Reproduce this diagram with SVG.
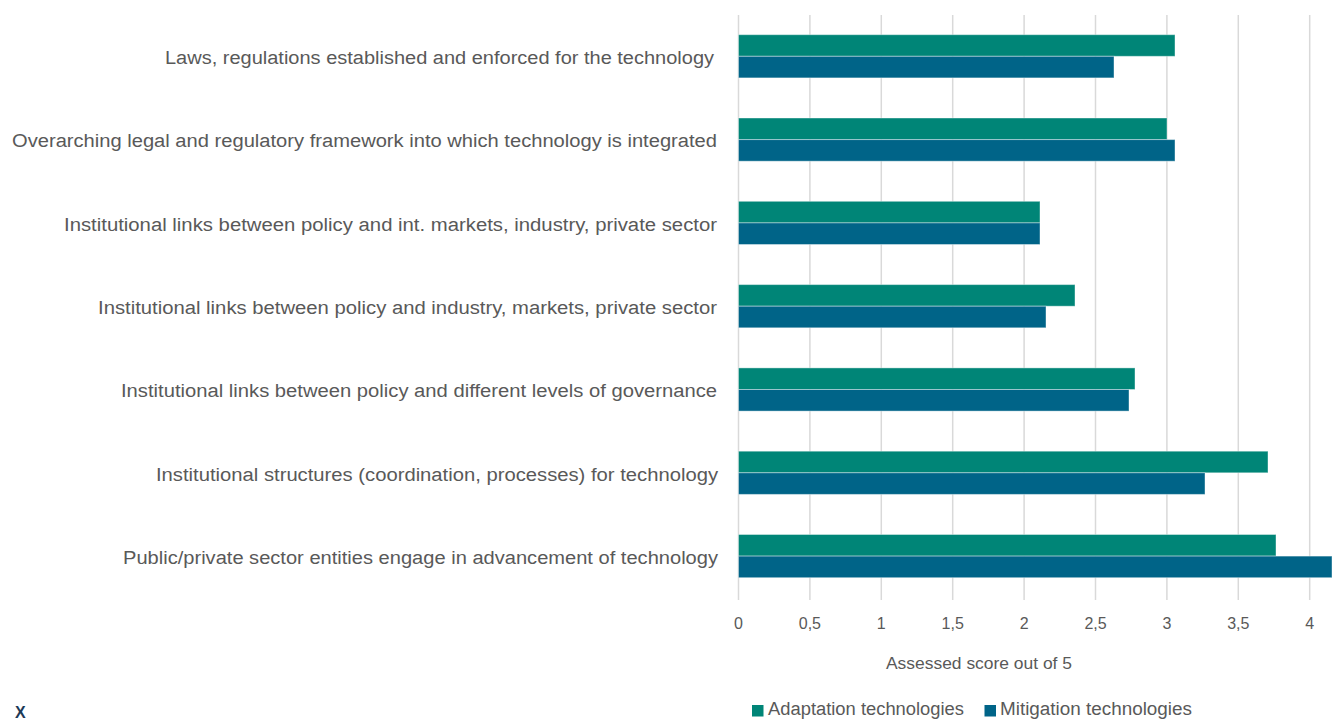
<svg xmlns="http://www.w3.org/2000/svg" width="1335" height="720" viewBox="0 0 1335 720">
<style>
.lbl{font-family:"Liberation Sans",Arial,sans-serif;font-size:18px;fill:#595959;text-anchor:end}
.tick{font-family:"Liberation Sans",Arial,sans-serif;font-size:16px;fill:#595959;text-anchor:middle}
.ttl{font-family:"Liberation Sans",Arial,sans-serif;font-size:16px;fill:#595959;text-anchor:middle}
.leg{font-family:"Liberation Sans",Arial,sans-serif;font-size:18px;fill:#595959}
.grid{stroke:#d9d9d9;stroke-width:1.5}
.ad{fill:#008577;stroke:#ffffff;stroke-opacity:0.4;stroke-width:1}
.mi{fill:#006488;stroke:#ffffff;stroke-opacity:0.4;stroke-width:1}
</style>
<rect width="1335" height="720" fill="#ffffff"/>
<g id="gridlines">
<line class="grid" x1="738.5" y1="15" x2="738.5" y2="600"/>
<line class="grid" x1="809.9" y1="15" x2="809.9" y2="600"/>
<line class="grid" x1="881.3" y1="15" x2="881.3" y2="600"/>
<line class="grid" x1="952.7" y1="15" x2="952.7" y2="600"/>
<line class="grid" x1="1024.1" y1="15" x2="1024.1" y2="600"/>
<line class="grid" x1="1095.5" y1="15" x2="1095.5" y2="600"/>
<line class="grid" x1="1166.9" y1="15" x2="1166.9" y2="600"/>
<line class="grid" x1="1238.3" y1="15" x2="1238.3" y2="600"/>
<line class="grid" x1="1309.7" y1="15" x2="1309.7" y2="600"/>
</g>
<g id="row1">
<text class="lbl" x="714" y="64" textLength="549" lengthAdjust="spacingAndGlyphs">Laws, regulations established and enforced for the technology</text>
<rect class="ad" x="738.5" y="34.7" width="436.5" height="21.6"/>
<rect class="mi" x="738.5" y="56.3" width="375.5" height="21.6"/>
</g>
<g id="row2">
<text class="lbl" x="717" y="147" textLength="705" lengthAdjust="spacingAndGlyphs">Overarching legal and regulatory framework into which technology is integrated</text>
<rect class="ad" x="738.5" y="118" width="428.5" height="21.6"/>
<rect class="mi" x="738.5" y="139.6" width="436.5" height="21.6"/>
</g>
<g id="row3">
<text class="lbl" x="717" y="231" textLength="653" lengthAdjust="spacingAndGlyphs">Institutional links between policy and int. markets, industry, private sector</text>
<rect class="ad" x="738.5" y="201.3" width="301.5" height="21.6"/>
<rect class="mi" x="738.5" y="222.9" width="301.5" height="21.6"/>
</g>
<g id="row4">
<text class="lbl" x="717" y="314" textLength="619" lengthAdjust="spacingAndGlyphs">Institutional links between policy and industry, markets, private sector</text>
<rect class="ad" x="738.5" y="284.6" width="336.5" height="21.6"/>
<rect class="mi" x="738.5" y="306.2" width="307.5" height="21.6"/>
</g>
<g id="row5">
<text class="lbl" x="717" y="397" textLength="596" lengthAdjust="spacingAndGlyphs">Institutional links between policy and different levels of governance</text>
<rect class="ad" x="738.5" y="367.9" width="396.5" height="21.6"/>
<rect class="mi" x="738.5" y="389.5" width="390.5" height="21.6"/>
</g>
<g id="row6">
<text class="lbl" x="718" y="481" textLength="562" lengthAdjust="spacingAndGlyphs">Institutional structures (coordination, processes) for technology</text>
<rect class="ad" x="738.5" y="451.2" width="529.5" height="21.6"/>
<rect class="mi" x="738.5" y="472.8" width="466.5" height="21.6"/>
</g>
<g id="row7">
<text class="lbl" x="718" y="564" textLength="595" lengthAdjust="spacingAndGlyphs">Public/private sector entities engage in advancement of technology</text>
<rect class="ad" x="738.5" y="534.5" width="537.5" height="21.6"/>
<rect class="mi" x="738.5" y="556.1" width="593.5" height="21.6"/>
</g>
<g id="axis">
<text class="tick" x="738.5" y="629">0</text>
<text class="tick" x="809.9" y="629">0,5</text>
<text class="tick" x="881.3" y="629">1</text>
<text class="tick" x="952.7" y="629">1,5</text>
<text class="tick" x="1024.1" y="629">2</text>
<text class="tick" x="1095.5" y="629">2,5</text>
<text class="tick" x="1166.9" y="629">3</text>
<text class="tick" x="1238.3" y="629">3,5</text>
<text class="tick" x="1309.7" y="629">4</text>
<text class="ttl" x="979" y="669" textLength="186" lengthAdjust="spacingAndGlyphs">Assessed score out of 5</text>
</g>
<g id="legend">
<rect x="752" y="705" width="11.5" height="11.5" fill="#008577"/>
<text class="leg" x="768" y="715" textLength="196" lengthAdjust="spacingAndGlyphs">Adaptation technologies</text>
<rect x="984.5" y="705" width="11.5" height="11.5" fill="#006488"/>
<text class="leg" x="1000" y="715" textLength="192" lengthAdjust="spacingAndGlyphs">Mitigation technologies</text>
</g>
<g id="corner-mark">
<text x="15" y="718" style="font-family:'Liberation Sans',Arial,sans-serif;font-size:16px;font-weight:bold;fill:#1d3a57">X</text>
</g>
</svg>
